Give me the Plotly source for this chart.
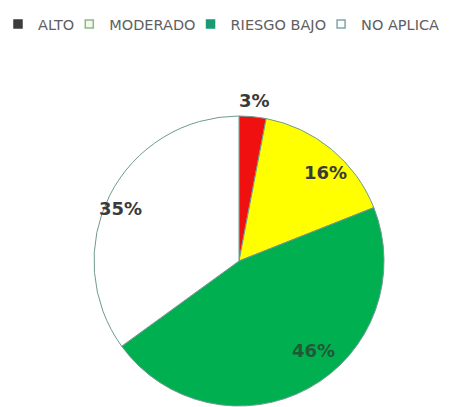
import plotly.graph_objects as go

labels = ["ALTO", "MODERADO", "RIESGO BAJO", "NO APLICA"]
values = [3, 16, 46, 35]
colors = ["#F01010", "#FFFF00", "#00B050", "#FFFFFF"]
legend_fill = ["#3C3C3C", "#F4F8EC", "#1A9A72", "#FFFFFF"]
legend_line = ["#3C3C3C", "#8DB887", "#1A9A72", "#7FA6A6"]
label_colors = ["#3A3A3A", "#3A3A3A", "#1F5A36", "#3A3A3A"]

# page body has an 8px default margin; the figure is sized to fill the rest
OFF = 8
W, H = 453 - OFF, 407 - OFF

# label text placement, page pixels
label_px = [(254, 100), (325, 173), (313, 350), (120, 208)]
# pie centre / radius, page pixels
cx, cy, r = 239 - OFF, 261 - OFF, 145

fig = go.Figure()
fig.add_trace(go.Pie(
    labels=labels,
    values=values,
    sort=False,
    direction="clockwise",
    rotation=0,
    marker=dict(colors=colors, line=dict(color="#6F9A90", width=1)),
    textinfo="none",
    domain=dict(x=[(cx - r) / W, (cx + r) / W],
                y=[max(0, (H - cy - r) / H), min(1, (H - cy + r) / H)]),
    hoverinfo="label+percent",
    showlegend=False,
))

# legend entries (draw nothing on the chart)
for lab, fc, lc in zip(labels, legend_fill, legend_line):
    fig.add_trace(go.Scatter(
        x=[None], y=[None], mode="markers", name=lab,
        marker=dict(symbol="square", size=8, color=fc, line=dict(color=lc, width=1.5)),
        showlegend=True,
    ))

total = sum(values)
for v, (px, py), c in zip(values, label_px, label_colors):
    fig.add_annotation(
        x=(px - OFF) / W, y=1 - (py - OFF) / H, xref="paper", yref="paper",
        xanchor="center", yanchor="middle",
        text=f"{round(100 * v / total)}%", showarrow=False,
        font=dict(family="DejaVu Sans", size=18, color=c, weight="bold"),
    )

fig.update_layout(
    width=W, height=H,
    margin=dict(l=0, r=0, t=0, b=0),
    paper_bgcolor="white",
    plot_bgcolor="white",
    xaxis=dict(visible=False),
    yaxis=dict(visible=False),
    showlegend=True,
    legend=dict(
        orientation="h",
        x=0, y=1, xanchor="left", yanchor="top",
        font=dict(family="DejaVu Sans", size=14.5, color="#606060"),
        traceorder="normal",
        indentation=-10,
        bgcolor="rgba(0,0,0,0)",
    ),
)

fig.write_html("out.html")
